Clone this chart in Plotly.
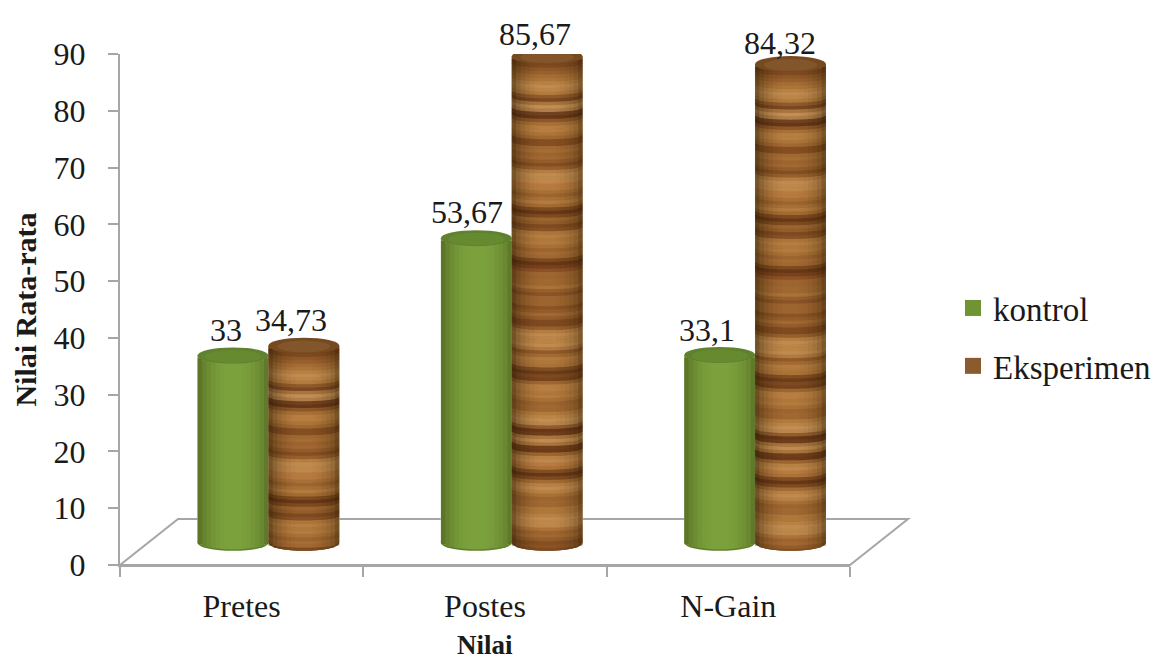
import math
import plotly.graph_objects as go

# Chart data
categories = ["Pretes", "Postes", "N-Gain"]
kontrol = [33, 53.67, 33.1]
eksperimen = [34.73, 85.67, 84.32]
y_ticks = [0, 10, 20, 30, 40, 50, 60, 70, 80, 90]

# Figure frame in pixels
WIDTH, HEIGHT = 1156, 661
LEFT, RIGHT, TOP, BOTTOM = 120, 850, 54, 565
PX_PER_UNIT = (BOTTOM - TOP) / 90

# Perspective settings of the cylinders, in axis units
FLOOR = 3.9            # height of the cylinder base centre above the axis zero
BAR_WIDTH = 0.291
GROUP_SHIFT = 0.11     # columns stand deeper on the floor than the category centre
CAP = 8 / PX_PER_UNIT  # semi-minor axis of the end ellipses
RING_CURVE = 4 / PX_PER_UNIT  # sag of the wood rings across the column
DEPTH_PX = (58, 46)    # floor depth offset

# Wood grain, read downward from the top of a column, one letter per ring
RING_STEP = 0.6
WOOD = {
    "a": "#5C2E12", "b": "#7A461C", "c": "#935C2A", "d": "#AA7036",
    "e": "#B98243", "f": "#C49157", "g": "#B46F35", "h": "#8A4B24",
}
GRAIN = (
    "bbccddefeecaeffaacdeeddbbddcdcbcefefgedcdedbabdcbbeededcddbabhdcdce"
    "cbdcdbcdcbbcefeefebdedebacadeededcdceeffcaaefeaadefgebabdefedcdcedefef"
    "dcdcbcbbb"
)

# Darkening across a cylinder, left to right
SHADE = [.45, .30, .20, .12, .06, .02, 0, 0, 0, 0, .02, .05, .10, .16, .25, .40]

GREEN = "#7BA13C"
GREEN_CAP = "#5F8130"
GREEN_CAP_INNER = "#668A30"
GREEN_EDGE = "#5F7F2A"
BROWN = "#8F5A2C"
LINE = "#A6A6A6"
TEXT = "#1A1A1A"
FONT = "Liberation Serif"

shapes = []


def paper(px, py):
    return (px - LEFT) / (RIGHT - LEFT), (BOTTOM - py) / (BOTTOM - TOP)


def ellipse(cx, cy, color, scale=1.0):
    half = BAR_WIDTH / 2 * scale
    rise = CAP * scale
    shapes.append(dict(type="circle", xref="x", yref="y", layer="above",
                       x0=cx - half, x1=cx + half, y0=cy - rise, y1=cy + rise,
                       fillcolor=color, line_width=0))


def sag(cx, x):
    t = min(1.0, abs(x - cx) / (BAR_WIDTH / 2))
    return math.sqrt(1 - t * t)


def shading(cx, base, top, strength):
    n = len(SHADE)
    for i, alpha in enumerate(SHADE):
        if alpha == 0:
            continue
        xa = cx - BAR_WIDTH / 2 + BAR_WIDTH * i / n
        xb = xa + BAR_WIDTH / n
        mid = (xa + xb) / 2
        y0, y1 = base - CAP * sag(cx, mid), top - CAP * sag(cx, mid)
        shapes.append(dict(type="path", xref="x", yref="y", layer="above",
                           path=f"M{xa:.4f},{y0:.4f} L{xb:.4f},{y0:.4f} L{xb:.4f},{y1:.4f} L{xa:.4f},{y1:.4f} Z",
                           fillcolor=f"rgba(30,20,0,{alpha * strength:.3f})", line_width=0))


def green_cylinder(cx, value):
    top = FLOOR + value
    ellipse(cx, FLOOR, GREEN_EDGE)
    shapes.append(dict(type="rect", xref="x", yref="y", layer="above",
                       x0=cx - BAR_WIDTH / 2, x1=cx + BAR_WIDTH / 2, y0=FLOOR, y1=top,
                       fillcolor=GREEN, line_width=0))
    ellipse(cx, FLOOR + 0.25, GREEN)
    shading(cx, FLOOR + 0.25, top, 0.7)
    ellipse(cx, top, GREEN_CAP)
    ellipse(cx, top - CAP * 0.12, GREEN_CAP_INNER, 0.8)


def grain_color(j):
    # each ring blends into its neighbours so the grain stays soft
    n = len(GRAIN)
    total = [0, 0, 0]
    for k, w in ((j - 1, 1), (j, 3), (j + 1, 1)):
        h = WOOD[GRAIN[k % n]]
        for c in range(3):
            total[c] += w * int(h[1 + 2 * c:3 + 2 * c], 16)
    return "#" + "".join(f"{round(v / 5):02X}" for v in total)


def wood_cylinder(cx, value):
    top = FLOOR + value
    samples = [cx + BAR_WIDTH * (i / 14 - 0.5) for i in range(15)]
    base = [FLOOR - CAP * sag(cx, x) for x in samples]
    ellipse(cx, FLOOR, WOOD["b"])
    rings = int((top - FLOOR + CAP) / RING_STEP) + 2
    for j in range(rings - 1, -1, -1):
        upper = [top - j * RING_STEP - RING_CURVE * sag(cx, x) for x in samples]
        lower = [u - RING_STEP - 0.08 for u in upper]
        if all(u <= b for u, b in zip(upper, base)):
            continue
        upper = [max(u, b) for u, b in zip(upper, base)]
        lower = [max(l, b) for l, b in zip(lower, base)]
        points = list(zip(samples, upper)) + list(zip(reversed(samples), reversed(lower)))
        path = "M" + " L".join(f"{x:.4f},{y:.4f}" for x, y in points) + " Z"
        shapes.append(dict(type="path", xref="x", yref="y", layer="above", path=path,
                           fillcolor=grain_color(j), line_width=0))
    shading(cx, FLOOR, top, 1.0)
    ellipse(cx, top, "#764A20")
    ellipse(cx, top - CAP * 0.1, "#82552A", 0.75)


# Floor of the 3D scene, behind the columns
corner = [paper(LEFT, BOTTOM), paper(RIGHT, BOTTOM),
          paper(RIGHT + DEPTH_PX[0], BOTTOM - DEPTH_PX[1]),
          paper(LEFT + DEPTH_PX[0], BOTTOM - DEPTH_PX[1])]
floor_path = "M" + " L".join(f"{x:.4f},{y:.4f}" for x, y in corner) + " Z"
shapes.append(dict(type="path", xref="paper", yref="paper", layer="below", path=floor_path,
                   fillcolor="white", line=dict(color=LINE, width=2)))

green_x = [i + GROUP_SHIFT - BAR_WIDTH / 2 for i in range(len(categories))]
wood_x = [i + GROUP_SHIFT + BAR_WIDTH / 2 for i in range(len(categories))]

for x, v in zip(green_x, kontrol):
    green_cylinder(x, v)
for x, v in zip(wood_x, eksperimen):
    wood_cylinder(x, v)

fig = go.Figure()
fig.add_bar(x=green_x, y=kontrol, base=FLOOR, width=BAR_WIDTH,
            marker_color=GREEN, showlegend=False, hoverinfo="skip")
fig.add_bar(x=wood_x, y=eksperimen, base=FLOOR, width=BAR_WIDTH,
            marker_color=BROWN, showlegend=False, hoverinfo="skip")

# Legend entries with small square swatches
fig.add_scatter(x=[None], y=[None], mode="markers", name="kontrol", legendgroup="kontrol",
                marker=dict(symbol="square", size=16, color="#6F9434"))
fig.add_scatter(x=[None], y=[None], mode="markers", name="Eksperimen", legendgroup="eksperimen",
                marker=dict(symbol="square", size=16, color="#8B5A30"))


def value_text(v):
    return f"{v:g}".replace(".", ",")


annotations = []
green_nudges = [(-7, 25), (-9, 26), (-13, 25)]
wood_nudges = [(-13, 26), (-12, 22), (-11, 21)]
for xs, vals, nudges in ((green_x, kontrol, green_nudges), (wood_x, eksperimen, wood_nudges)):
    for x, v, (nx, ny) in zip(xs, vals, nudges):
        annotations.append(dict(x=x, y=FLOOR + v, text=value_text(v), showarrow=False,
                                xshift=nx, yshift=ny, yanchor="middle",
                                font=dict(family=FONT, size=32, color=TEXT)))

# Category title resting on the bottom edge of the figure
annotations.append(dict(xref="paper", yref="paper", x=0.5, y=paper(0, HEIGHT)[1],
                        text="<b>Nilai</b>", showarrow=False, yanchor="bottom",
                        borderpad=0, font=dict(family=FONT, size=27, color=TEXT)))

fig.update_layout(
    width=WIDTH, height=HEIGHT,
    margin=dict(l=LEFT, r=WIDTH - RIGHT, t=TOP, b=HEIGHT - BOTTOM, autoexpand=False),
    paper_bgcolor="white", plot_bgcolor="rgba(0,0,0,0)",
    barmode="overlay",
    font=dict(family=FONT, color=TEXT),
    shapes=shapes,
    annotations=annotations,
    showlegend=True,
    legend=dict(x=(953 - LEFT) / (RIGHT - LEFT), xanchor="left",
                y=(BOTTOM - 337) / (BOTTOM - TOP), yanchor="middle",
                font=dict(family=FONT, size=33, color=TEXT),
                bgcolor="rgba(0,0,0,0)", tracegroupgap=12),
    xaxis=dict(range=[-0.5, 2.5], tickmode="array", tickvals=list(range(len(categories))),
               ticktext=categories, ticks="", showgrid=False, zeroline=False,
               showline=True, linecolor=LINE, linewidth=2,
               tickfont=dict(family=FONT, size=32, color=TEXT), ticklabelstandoff=12,
               minor=dict(tickmode="array", tickvals=[-0.5, 0.5, 1.5, 2.5], ticks="outside",
                          ticklen=10, tickwidth=2, tickcolor=LINE, showgrid=False)),
    yaxis=dict(range=[0, 90], tickmode="array", tickvals=y_ticks, ticks="outside", ticklen=10,
               tickwidth=2, tickcolor=LINE, showgrid=False, zeroline=False,
               showline=True, linecolor=LINE, linewidth=2,
               tickfont=dict(family=FONT, size=32, color=TEXT), ticklabelstandoff=16,
               title=dict(text="<b>Nilai Rata-rata</b>", standoff=8,
                          font=dict(family=FONT, size=30, color=TEXT))),
)

fig.write_html("out.html")
